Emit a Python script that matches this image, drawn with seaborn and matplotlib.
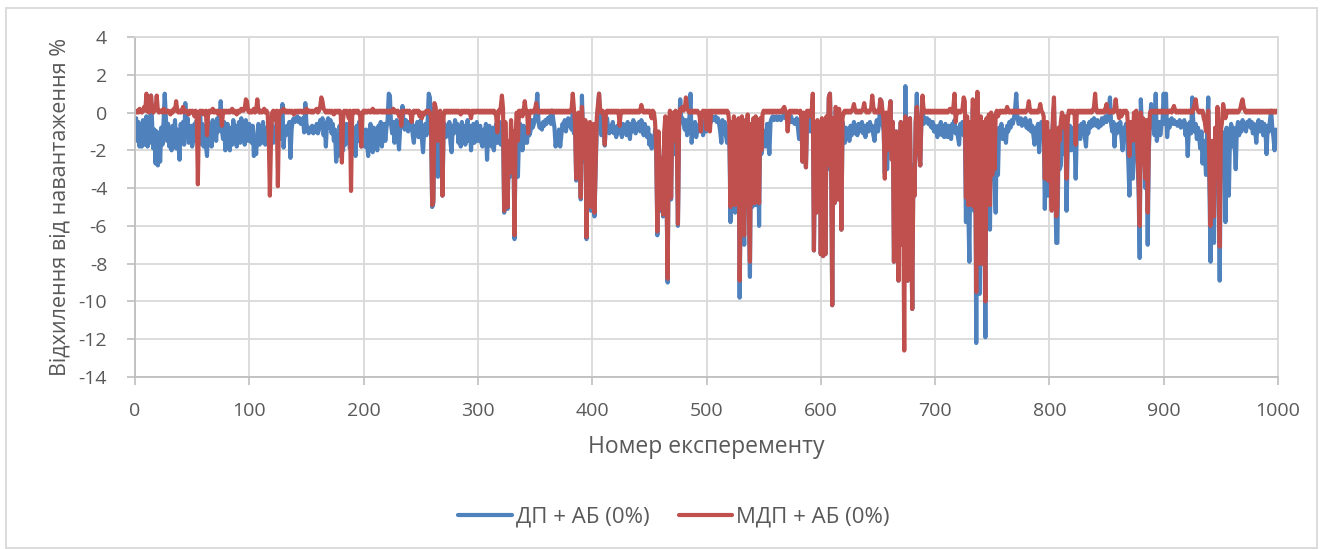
import matplotlib
matplotlib.use("Agg")
import matplotlib.pyplot as plt
from matplotlib.patches import Rectangle
import pandas as pd
import seaborn as sns

# Experiment numbers 1..1000
experiment = list(range(1, 1001))

# Deviation from load, %, for DP + AB (0%)
dp_ab = [
    -0.3, -1.5, -0.5, -1.8, -0.8, -1.8, -0.4, -1.7, -1.1, -0.2, -1.8, -0.7, -1.6, 0.9, -0.6, -1.9, -0.9, -2.7, -1.0, -2.8,
    -1.6, -2.6, -0.8, -1.7, -0.5, 1.0, -0.3, -1.5, -0.6, -1.8, -0.9, -2.0, -0.7, -1.6, -0.4, -1.9, -0.9, -1.7, -2.5, -0.6,
    -1.5, -0.5, -1.7, 0.5, -0.8, -0.3, -1.6, -1.5, -0.7, -1.8, -1.4, -0.6, -1.5, -0.4, -1.2, -1.7, -0.2, -1.4, -0.6, -1.8,
    -0.8, -1.7, -2.3, -0.5, -1.2, -0.9, -1.8, -0.4, -1.3, -0.7, -1.5, -0.3, -1.0, -0.6, 0.6, -0.9, -1.4, -0.5, -2.0, -1.1,
    -0.6, -1.6, -2.0, -0.8, -1.7, -0.4, -1.4, -0.7, -1.8, -0.9, -0.5, -1.6, -0.3, -1.4, -0.8, -1.7, -0.4, -1.3, -1.5, -0.6,
    -1.0, -1.6, -0.7, -2.3, -1.5, -2.2, -1.1, -0.6, -1.7, -0.9, -1.6, -0.5, -1.3, -1.7, -0.8, -1.6, -0.6, -1.8, -1.0, -0.7,
    -1.6, -0.9, -1.3, -0.5, -1.1, -0.8, -1.4, -0.6, 0.45, -1.85, -0.9, -1.2, -0.7, -1.0, -0.5, -2.4, -0.9, -0.4, -0.3, -0.5,
    -0.4, -0.2, -0.5, -0.3, -0.6, -0.4, -0.3, -1.05, 0.5, -0.6, -0.9, -1.1, -0.8, -1.0, -0.7, -1.1, -0.9, -1.0, -0.6, -1.1,
    -0.9, -0.4, -0.7, -0.3, -1.2, -0.6, -1.8, -0.5, -0.3, -0.8, -0.4, -1.1, -0.6, -1.5, -0.9, -2.6, -1.4, -2.3, -0.7, -1.3,
    -1.0, -2.0, -0.8, -1.7, -0.6, -1.5, -0.9, -1.9, -0.5, -1.4, -0.8, -1.7, -2.3, -0.7, -1.5, -0.5, -1.3, -1.8, -0.9, -1.6,
    -1.8, -0.9, -1.6, -2.3, -1.1, -0.6, -1.8, -2.1, -0.8, -1.5, -1.6, -2.0, -0.7, -1.6, -0.5, -1.8, -1.0, -0.6, -1.5, -0.8,
    -0.4, 1.0, 0.9, -0.6, -1.1, -0.5, -1.6, -0.9, -0.4, -1.3, -1.95, -0.8, -0.5, 0.35, -0.6, -0.9, -0.4, -0.7, -1.0, -0.5,
    -0.8, -0.3, -1.2, -1.6, -0.7, -1.0, -0.5, -1.3, -0.8, -0.4, -1.4, -2.1, -0.9, -0.6, -1.2, -0.5, 1.0, 0.8, -0.7, -5.0,
    -4.8, 0.3, -0.6, -1.4, -3.4, -1.0, -0.5, -1.8, -4.4, -0.9, -0.6, -1.3, -0.8, -1.2, -0.5, -1.6, -2.1, -0.7, -1.1, -0.4,
    -1.0, -0.6, -1.6, -0.8, -1.8, -0.5, -1.4, -0.7, -1.7, -0.9, -0.4, -1.5, -0.7, -2.0, -1.0, -0.6, -1.6, -1.0, -0.5, -1.5,
    -1.0, -0.7, -1.6, -1.8, -0.9, -1.7, -0.6, -2.5, -1.0, -0.7, -1.6, -1.8, -0.8, -2.0, -1.1, -0.6, -1.6, -0.9, -0.5, -1.7,
    -0.8, -1.2, -5.3, -1.0, -3.3, -5.1, -2.0, -3.4, -1.4, -3.0, -1.2, -6.7, -1.5, -0.8, -3.4, -1.2, -0.6, -1.0, -2.0, -0.7,
    -1.6, -0.9, -1.6, -0.5, -1.2, -1.0, -0.4, -0.8, -0.6, -0.3, 0.2, 1.0, -0.5, -0.8, -0.6, -0.9, -0.5, -0.7, -0.4, -0.6,
    -0.3, -0.5, -0.2, -0.6, 0.1, -0.4, -0.8, -1.8, -1.3, -1.7, -0.9, -1.8, -1.2, -0.6, -0.8, -0.4, -1.0, -0.6, -0.3, -0.7,
    -0.5, -0.9, 0.2, -1.1, -0.6, -3.6, -1.0, -0.5, -2.2, -4.6, 0.9, -1.2, -2.6, -0.8, -6.7, -1.5, -3.0, -0.9, -5.2, -4.6,
    -1.0, -5.5, -3.0, -0.8, 0.2, 1.0, -0.6, -1.2, -0.5, -0.9, -1.75, -0.6, -0.3, -0.9, -1.1, -0.7, -1.0, -0.5, -1.1, -0.8,
    -1.3, -0.7, -1.1, -0.5, -0.9, -1.3, -0.6, -1.0, -0.7, -1.2, -0.5, -0.9, -1.4, -0.6, -1.0, -0.4, -0.8, -1.1, -0.6, -0.9,
    -0.5, -1.0, -0.4, -0.7, -1.2, -0.6, -0.9, -1.3, -0.8, -1.7, -1.2, -1.9, -1.5, -1.8, -0.9, -2.0, -6.5, -1.2, -3.0, -5.2,
    -2.5, -5.5, -1.3, -0.8, -4.0, -9.0, -1.5, -0.5, -4.6, -1.0, -0.7, -2.2, -0.6, -1.5, -6.0, -0.9, 0.7, -0.5, -0.3, -0.6,
    -0.9, -0.4, -1.2, -0.7, -0.3, 1.0, -1.6, -0.8, -1.1, -0.5, -1.3, -0.7, -1.0, -0.6, -0.9, -0.4, -1.2, -0.8, -0.5, -1.0,
    -0.4, -0.7, -0.3, -0.5, -0.2, -0.3, -0.4, -0.2, -0.5, -0.3, -0.6, -1.0, -1.6, -0.4, -0.8, -0.5, -1.2, -1.6, -0.7, -1.3,
    -5.8, -0.9, -4.8, -0.5, -5.3, -1.8, -4.9, -0.6, -9.8, -4.2, -0.4, -5.0, -7.0, -0.6, -4.8, -0.3, -5.2, -8.7, -0.8, -5.0,
    -0.5, -4.9, -0.4, -4.9, -0.7, -6.0, -0.6, -2.2, -0.9, -1.8, -1.0, -1.8, -0.6, -1.2, -2.2, -0.5, -0.3, -0.2, -0.4, -0.3,
    -0.2, -0.4, -0.3, -0.2, -0.4, -0.3, -0.2, -0.1, -0.3, -0.2, -0.4, -0.3, -0.5, -0.2, -0.5, -0.4, -0.6, -0.5, -0.3, -0.8,
    -1.4, -0.5, -0.3, -2.6, -0.6, -1.2, -2.9, -0.4, -0.8, -0.3, -1.0, -0.5, 0.2, -7.3, -1.0, -5.3, -0.6, -3.0, -0.8, -7.5,
    -0.5, -7.6, -1.0, -7.5, -0.3, -3.0, 0.8, 1.0, -2.0, -10.2, -0.5, -4.8, 0.1, -0.6, -4.6, 0.0, -1.2, -6.2, -0.5, -1.0,
    -1.6, -0.8, -1.3, -1.0, -1.5, -0.7, -1.2, -0.9, -0.5, -1.1, -0.7, -1.2, -0.6, -1.0, -0.8, -0.5, -1.1, -0.7, -1.3, -0.8,
    -0.6, -1.0, -0.5, -0.9, -0.7, -1.2, -1.5, -0.8, -0.4, -1.0, -0.6, 0.7, 0.6, -0.5, -1.0, -3.2, -0.8, -3.0, -1.4, -0.6,
    0.6, -2.0, -0.5, -7.9, -3.0, -1.0, -4.0, -8.9, -2.0, -0.5, -6.5, -3.0, -5.0, 1.4, -4.0, -8.9, -2.5, -0.3, -5.0, -10.4,
    -2.8, -4.4, -0.6, 1.0, -1.2, -2.0, -2.8, -0.5, 0.5, -0.6, -0.3, -0.5, -0.3, -0.6, -0.4, -0.7, -0.8, -0.5, -1.0, -0.7,
    -1.0, -1.3, -0.7, -1.1, -0.5, -1.2, -0.8, -1.3, -0.6, -1.0, -1.3, -0.7, -1.2, -1.4, -0.6, -0.9, -0.4, -1.1, -0.8, -1.3,
    -1.7, -0.6, -1.0, -0.5, -1.2, -0.8, -5.8, -0.5, -5.0, -7.9, -0.8, -5.0, 0.2, -5.2, -0.6, -12.2, -0.4, -6.5, -9.6, -0.5,
    -8.0, -0.8, -5.2, -11.9, -0.5, -5.0, -0.3, -6.2, -0.4, -3.5, -1.0, -3.3, -5.3, -1.0, -3.3, -0.8, -1.2, -0.6, -1.4, -0.9,
    -1.1, -1.6, -0.7, -1.0, -0.5, -0.8, -0.4, -0.6, -0.3, 0.2, 1.0, -0.2, -0.6, -0.5, -0.3, -0.7, -0.4, -0.6, -0.3, -0.8,
    -0.5, -0.9, -0.4, -1.0, -0.7, -1.2, -1.7, -0.8, -1.3, -0.6, -2.1, -0.9, -0.5, -1.0, -0.6, -5.1, -2.0, -1.0, -4.4, -1.5,
    -4.4, -1.2, -0.6, 0.3, -3.0, -6.9, -6.9, -1.5, -3.0, -2.8, -0.9, -1.5, -2.2, -0.8, -5.2, -2.0, -1.0, -0.7, -2.0, -1.2,
    -0.8, -1.4, -3.5, -1.0, -0.7, -1.2, -1.4, -0.6, -1.0, -0.5, -1.3, -1.8, -0.7, -1.1, -0.5, -0.8, -0.4, -0.7, -0.3, -0.6,
    -0.7, -0.4, -0.8, -0.5, -0.7, -0.3, -0.6, -0.4, -0.2, -0.5, -0.3, 0.2, 0.8, -0.6, -1.0, -0.5, -1.8, -0.7, -1.1, -0.6,
    -1.0, -0.5, -1.3, -2.0, -0.8, -1.2, -0.6, -1.5, -2.5, -4.4, -1.5, -2.0, -3.5, -0.8, -1.8, -0.5, -2.5, -4.0, -7.7, 0.7,
    -1.0, -2.3, -1.5, -4.0, -0.8, -7.0, -2.0, -0.5, 0.45, -0.8, -0.5, -1.2, 1.0, -1.5, -0.9, -0.5, -1.2, -0.7, -0.4, 1.0,
    -0.6, 1.0, -1.3, -0.4, -0.8, -0.5, -0.3, -0.6, -0.4, -0.6, -0.5, -0.7, -0.6, -0.4, -0.8, -0.5, -0.7, -0.4, -1.2, -0.6,
    -2.3, -0.9, -0.5, -1.1, 0.8, -0.7, -1.0, -0.6, -1.4, -0.8, -1.3, -1.9, -1.0, -2.7, -1.5, -2.0, -3.3, -1.0, 0.8, -4.0,
    -7.9, -2.5, -5.0, -6.9, -1.5, -4.0, -0.5, -3.5, -8.9, -2.0, -1.0, -2.5, -1.2, -5.8, -0.8, -2.0, -4.4, -1.2, -0.6, -1.8,
    -0.8, -1.5, -3.0, -0.9, -0.5, -1.2, -0.7, -1.0, -0.4, -0.8, -0.6, -1.0, -0.5, -0.7, -0.4, -0.8, -0.5, -1.1, -0.6, -0.9,
    -1.6, -0.7, -0.4, -1.0, -0.9, -0.5, -1.2, -0.6, -0.9, -2.2, -0.7, -1.0, -0.4, 0.1, -0.8, -1.3, -2.0, -0.9, -1.5, -1.3,
]

# Deviation from load, %, for MDP + AB (0%)
mdp_ab = [
    0.0, 0.1, 0.0, 0.2, 0.1, 0.0, 0.1, 0.3, 0.1, 1.0, 0.1, 0.0, 0.2, 0.9, 0.1, 0.0, 0.1, 0.2, 0.9, 0.1,
    0.0, 0.1, 0.1, 0.0, 0.2, 0.1, 0.0, 0.1, 0.1, 0.0, -0.1, 0.1, 0.0, 0.2, 0.1, 0.6, 0.1, 0.0, 0.1, 0.0,
    0.1, 0.3, 0.0, 0.1, 0.1, 0.0, -0.1, 0.1, 0.0, 0.1, 0.0, -0.2, 0.1, 0.0, -3.8, 0.0, 0.1, 0.0, 0.1, -0.1,
    0.0, 0.1, -1.2, 0.0, 0.1, 0.0, 0.1, 0.2, 0.0, 0.1, 0.0, 0.1, -0.1, 0.0, 0.1, -0.7, 0.0, 0.1, 0.0, 0.1,
    0.0, 0.1, 0.0, 0.1, 0.2, 0.0, 0.1, 0.0, -0.1, 0.1, 0.0, 0.1, 0.2, 0.1, 0.1, 0.2, 0.7, 0.6, 0.1, 0.0,
    0.1, 0.0, 0.1, 0.2, 0.0, 0.1, 0.7, 0.1, 0.0, 0.1, 0.0, 0.1, 0.2, 0.0, 0.1, 0.0, -1.2, -4.4, -1.5, 0.0,
    0.1, 0.0, -0.4, 0.1, -3.9, -0.3, 0.1, 0.0, 0.1, 0.2, 0.1, 0.0, 0.1, 0.0, 0.1, 0.0, 0.1, 0.0, -0.1, 0.1,
    0.0, 0.1, 0.0, 0.1, 0.1, 0.0, 0.1, 0.0, 0.1, 0.2, 0.0, 0.1, 0.1, 0.0, 0.1, 0.0, 0.1, 0.1, 0.2, 0.0,
    0.1, 0.3, 0.8, 0.6, 0.2, 0.1, 0.0, 0.1, 0.0, 0.1, 0.0, 0.1, 0.0, -0.1, 0.1, 0.0, 0.1, 0.0, 0.1, 0.0,
    -2.65, -0.4, 0.1, 0.0, 0.1, 0.0, -0.3, 0.1, -4.15, -0.2, 0.1, 0.0, 0.1, 0.0, 0.1, 0.0, -0.2, -1.8, 0.0, 0.1,
    0.0, 0.1, 0.0, 0.1, 0.1, 0.0, 0.1, 0.2, 0.0, 0.1, 0.0, 0.1, 0.0, 0.1, 0.1, 0.0, 0.1, 0.0, 0.1, 0.0,
    0.1, 0.0, 0.1, 0.0, 0.1, 0.2, 0.0, 0.1, 0.0, 0.1, -0.2, 0.0, -0.7, 0.1, 0.0, 0.1, 0.0, 0.1, 0.0, 0.1,
    0.0, -0.5, 0.0, 0.1, 0.0, 0.1, 0.0, 0.1, -0.2, 0.0, -0.3, 0.0, -0.1, 0.0, 0.1, 0.0, 0.1, 0.0, -0.3, -4.9,
    -4.7, 0.5, 0.3, -0.5, -1.5, 0.0, 0.1, -0.8, -4.4, -0.2, 0.1, 0.0, 0.1, 0.0, 0.1, 0.0, 0.1, 0.0, 0.1, 0.0,
    0.1, 0.0, 0.1, 0.0, -0.1, 0.1, 0.0, 0.1, 0.0, 0.1, 0.0, 0.1, 0.0, -0.3, 0.1, 0.0, 0.1, 0.0, 0.1, 0.1,
    0.0, 0.1, 0.0, 0.1, 0.0, 0.1, 0.0, 0.1, 0.0, 0.1, 0.0, 0.1, 0.0, 0.1, 0.0, -0.2, -1.05, 0.1, 0.0, 0.3,
    0.9, 0.2, -5.2, -0.5, -3.0, -5.0, -1.5, -3.2, -0.4, -2.8, -1.0, -6.5, -1.0, 0.0, -1.5, 0.1, 0.0, 0.1, -0.2, 0.1,
    0.6, 0.0, 0.1, -1.1, 0.0, 0.1, 0.0, 0.1, 0.0, 0.2, 0.5, 0.1, 0.0, 0.1, 0.0, 0.1, 0.0, 0.1, 0.0, 0.1,
    0.0, 0.1, 0.0, 0.1, 0.1, 0.0, 0.1, 0.0, 0.1, 0.0, 0.1, 0.0, 0.1, 0.0, 0.1, 0.0, 0.1, 0.0, 0.1, 0.0,
    0.1, 0.2, 1.0, 0.2, -0.5, -3.5, -0.8, 0.0, -2.0, -4.5, 0.3, -1.0, -2.4, -0.4, -6.6, -1.2, -2.8, -0.5, -5.0, -4.5,
    -0.6, -5.3, -2.8, -0.3, 0.4, 1.0, 0.1, 0.0, 0.1, 0.0, -1.7, 0.0, 0.1, 0.0, 0.1, 0.0, 0.1, 0.0, 0.1, 0.0,
    0.1, 0.0, 0.1, -0.7, 0.0, 0.1, 0.0, 0.1, 0.0, 0.1, 0.0, 0.1, 0.0, 0.1, 0.0, 0.1, 0.0, 0.1, 0.0, 0.1,
    0.0, 0.1, 0.4, 0.1, 0.0, 0.1, 0.0, 0.1, 0.0, 0.1, 0.0, -0.3, 0.1, 0.0, -0.5, -1.8, -6.3, -1.0, -2.8, -5.1,
    -2.4, -5.4, -1.0, -0.2, -3.8, -8.8, -1.2, 0.1, -4.5, -0.6, 0.0, -1.5, 0.1, -1.2, -5.9, -0.4, 0.2, 0.1, 0.3, 0.1,
    0.2, 0.8, 0.2, 0.1, 0.0, 0.1, 0.0, 0.1, 0.0, 0.1, 0.0, 0.1, 0.0, -0.2, -1.0, 0.0, 0.1, 0.0, 0.1, -0.9,
    0.0, 0.1, -1.0, 0.1, 0.0, 0.1, 0.0, 0.1, 0.0, 0.1, 0.0, 0.1, 0.0, 0.1, 0.0, 0.1, 0.0, 0.1, 0.0, -0.6,
    -5.0, -0.5, -4.6, -0.2, -4.9, -1.5, -4.7, -0.3, -8.9, -4.0, -0.2, -4.8, -6.5, -0.4, -4.6, -0.1, -5.0, -7.9, -0.6, -4.8,
    -0.3, -4.8, -0.2, -4.7, -0.5, -4.8, -0.3, -2.0, -0.1, 0.1, 0.0, 0.1, 0.0, 0.1, 0.0, 0.1, 0.0, 0.1, 0.0, 0.1,
    0.0, 0.1, 0.0, 0.1, 0.1, 0.0, 0.2, 0.3, 0.1, 0.0, -1.0, -0.2, 0.1, 0.0, 0.1, 0.0, 0.1, 0.0, 0.1, 0.0,
    0.0, 0.1, -0.3, -2.6, 0.0, -0.8, -2.9, 0.1, 0.0, 0.1, -0.2, 0.0, 1.0, -7.3, -0.8, -5.3, -0.4, -3.0, -0.6, -7.5,
    -0.3, -7.6, -0.8, -7.5, -0.2, -2.8, 0.8, 1.0, -1.8, -10.2, -0.3, -4.8, 0.3, -0.4, -4.6, 0.2, -1.0, -6.2, -0.3, 0.0,
    0.1, 0.0, 0.1, 0.0, 0.1, 0.0, 0.1, 0.2, 0.45, 0.1, 0.0, 0.1, 0.0, 0.1, 0.0, 0.1, 0.2, 0.5, 0.1, 0.0,
    0.1, 0.0, 0.1, 0.2, 0.9, 0.3, 0.0, 0.1, 0.0, 0.1, 0.0, 0.7, 0.6, 0.1, -0.5, -3.5, 0.0, -2.0, -0.3, 0.1,
    0.6, -2.5, -0.5, -7.9, -3.5, -1.0, -4.5, -8.9, -2.5, -0.5, -7.0, -3.5, -12.6, -0.2, -4.5, -8.9, -3.0, -0.3, -5.5, -10.4,
    -3.0, -4.4, -0.5, 0.3, -1.0, -2.0, -2.8, -0.3, 0.9, 0.1, 0.0, 0.1, 0.0, 0.1, 0.0, 0.1, 0.0, 0.1, 0.0, 0.1,
    0.0, 0.1, 0.0, 0.1, 0.0, 0.1, 0.0, 0.1, 0.0, 0.1, 0.0, 0.1, 0.2, 0.1, 0.0, 0.3, 1.0, -0.5, 0.1, 0.0,
    0.1, 0.0, 0.1, 0.2, 0.8, 0.6, -4.5, -0.2, -4.9, -4.8, -0.5, -4.9, 0.7, -5.0, -0.3, -9.5, 1.1, -6.0, -8.0, -0.2,
    -8.0, -0.5, -5.0, -10.0, -0.3, -4.8, -0.1, -4.9, 0.0, -3.3, -0.2, -3.0, -0.1, 0.1, -0.2, 0.0, 0.1, 0.0, 0.1, 0.0,
    0.1, 0.0, 0.3, 0.1, 0.0, 0.1, 0.0, 0.1, 0.0, 0.1, 0.0, 0.1, 0.0, 0.1, 0.0, 0.1, 0.0, 0.1, 0.0, 0.1,
    0.2, 0.6, 0.1, 0.0, 0.1, 0.0, 0.1, 0.0, 0.1, 0.0, 0.1, 0.45, 0.1, 0.0, -0.2, -3.5, -1.5, -0.5, -3.6, -1.0,
    -3.0, -5.2, -0.3, 0.8, -2.5, -5.5, -5.0, -0.8, -1.5, -0.5, 0.0, -0.3, -0.8, -0.2, -3.5, -0.5, 0.1, 0.0, 0.1, 0.0,
    0.1, 0.0, -1.7, 0.1, 0.0, 0.1, 0.0, 0.1, 0.0, 0.1, 0.0, 0.1, 0.0, 0.1, 0.0, 0.1, 0.0, 0.1, 0.3, 1.0,
    0.1, 0.0, 0.1, 0.0, 0.1, 0.0, 0.1, 0.0, 0.2, 0.45, 0.1, 0.0, 0.1, 0.0, 0.1, 0.0, 0.2, 0.7, 0.1, 0.0,
    -0.3, 0.1, -0.2, 0.0, 0.1, 0.0, 0.1, 0.0, -1.0, -2.3, -0.5, -1.0, -1.5, 0.0, -0.6, 0.1, -2.0, -3.5, -6.0, 0.0,
    -2.5, -0.3, -2.5, -3.5, -0.4, -5.3, -1.5, 0.0, 0.1, 0.0, 0.1, 0.0, 0.1, 0.0, 0.1, 0.0, 0.1, 0.0, 0.1, 0.0,
    0.1, 0.0, 0.1, 0.0, 0.1, 0.1, 0.0, 0.2, 0.35, 0.1, 0.0, 0.1, 0.0, 0.1, 0.0, 0.1, 0.0, 0.1, 0.0, 0.1,
    0.0, 0.1, 0.0, 0.1, 0.0, 0.2, 0.4, 0.7, 0.2, 0.1, 0.0, 0.1, 0.0, 0.1, -0.3, -0.5, -1.0, -0.2, 0.1, -3.0,
    -6.0, -1.5, -4.5, -5.5, -0.8, -3.0, 0.3, -3.0, -7.1, -1.0, -0.5, 0.45, 0.1, -0.3, 0.0, 0.1, 0.0, 0.1, 0.0, 0.1,
    0.0, 0.1, 0.0, 0.1, 0.0, 0.1, 0.2, 0.5, 0.7, 0.3, 0.1, 0.0, 0.1, 0.0, 0.1, 0.0, 0.1, 0.0, 0.1, 0.0,
    0.1, 0.0, 0.1, 0.0, 0.1, 0.0, 0.1, 0.0, 0.1, 0.0, 0.1, 0.0, 0.1, 0.0, 0.1, 0.0, 0.1, 0.0, 0.1, 0.1,
]

series_names = ["ДП + АБ (0%)", "МДП + АБ (0%)"]
series_colors = ["#4f81bd", "#c0504d"]
x_ticks = [0, 100, 200, 300, 400, 500, 600, 700, 800, 900, 1000]
y_ticks = [4, 2, 0, -2, -4, -6, -8, -10, -12, -14]
x_title = "Номер експеременту"
y_title = "Відхилення від навантаження %"

assert len(dp_ab) == len(mdp_ab) == len(experiment)

data = pd.DataFrame({
    "experiment": experiment * 2,
    "deviation": dp_ab + mdp_ab,
    "series": [series_names[0]] * len(dp_ab) + [series_names[1]] * len(mdp_ab),
})

sns.set_theme(style="white")
plt.rcParams["font.family"] = ["Open Sans", "DejaVu Sans"]
plt.rcParams["axes.unicode_minus"] = False

W, H = 1322, 549
fig = plt.figure(figsize=(W / 100, H / 100), dpi=100)
fig.patch.set_facecolor("white")

# plot area in pixels: x 135..1278, y 37..377
ax = fig.add_axes([135 / W, 1 - 377 / H, (1278 - 135) / W, (377 - 37) / H])

sns.lineplot(
    data=data, x="experiment", y="deviation", hue="series",
    hue_order=series_names, palette=series_colors,
    linewidth=3.0, estimator=None, sort=False, ax=ax,
    solid_joinstyle="round", solid_capstyle="round",
)

ax.set_xlim(0, 1000)
ax.set_ylim(-14, 4)
ax.set_xticks(x_ticks)
ax.set_yticks(y_ticks)
ax.set_xticklabels([str(t) for t in x_ticks])
ax.set_yticklabels([str(t) for t in y_ticks])

grid_color = "#d9d9d9"
axis_color = "#bfbfbf"
text_color = "#595959"

ax.grid(True, color=grid_color, linewidth=1.3)
ax.set_axisbelow(True)
for side in ("top", "right"):
    ax.spines[side].set_color(grid_color)
    ax.spines[side].set_linewidth(1.3)
for side in ("left", "bottom"):
    ax.spines[side].set_color(axis_color)
    ax.spines[side].set_linewidth(1.3)

ax.tick_params(axis="both", which="major", length=6, width=1.2, color=axis_color,
               labelcolor=text_color, labelsize=14, direction="out")
ax.tick_params(axis="y", pad=14)
ax.tick_params(axis="x", pad=12)
ax.tick_params(left=True, bottom=True)

ax.set_xlabel(x_title, fontsize=16.5, color=text_color, va="center")
ax.set_ylabel(y_title, fontsize=15.5, color=text_color, va="center")
ax.xaxis.set_label_coords(0.5, (377 - 447) / 340)
ax.yaxis.set_label_coords((60 - 135) / 1143, 0.5)

handles, labels = ax.get_legend_handles_labels()
for h in handles:
    h.set_linewidth(3.0)
leg = ax.legend(
    handles, labels, loc="center", bbox_to_anchor=((674 - 135) / 1143, (377 - 517) / 340),
    ncol=2, frameon=False, fontsize=16, handlelength=2.4, handletextpad=0.2,
    columnspacing=1.3,
)
for t in leg.get_texts():
    t.set_color(text_color)

# chart area border
fig.patches.append(Rectangle((6 / W, 1 / H), (1317 - 6) / W, (541 - 1) / H,
                             transform=fig.transFigure, fill=False,
                             edgecolor=grid_color, linewidth=1.3))

fig.savefig("out.png", dpi=100)
